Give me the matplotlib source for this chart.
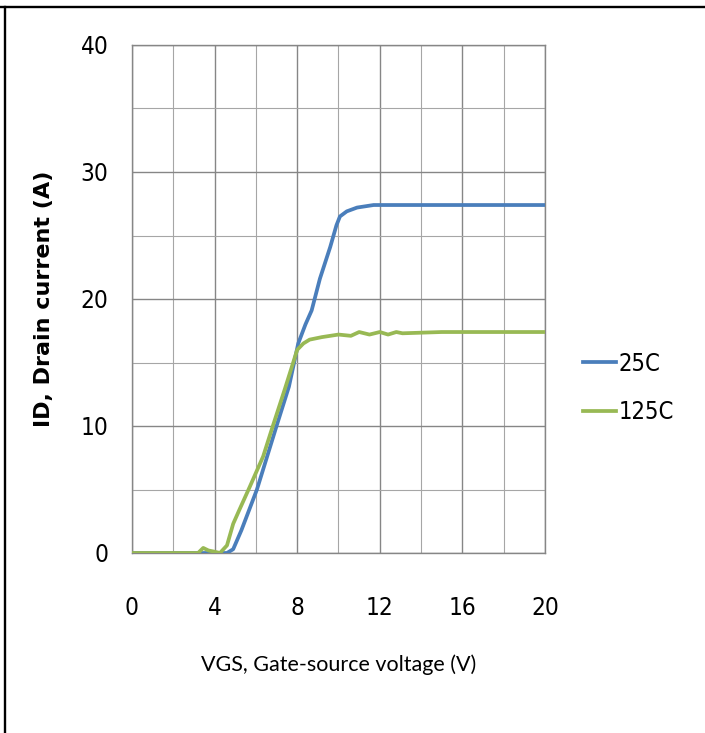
import matplotlib.pyplot as plt
from matplotlib.lines import Line2D

# Dane (VGS w V, ID w A)
vgs_25 = [0, 2, 4, 4.6, 4.9, 5.3, 6.05, 7.0, 7.6, 8.05, 8.4, 8.7, 9.1, 9.6, 9.9,
          10.07, 10.4, 10.9, 11.3, 11.7, 14, 17, 20]
id_25 = [0, 0, 0, 0, 0.3, 1.8, 5.0, 10.0, 13.1, 16.5, 18.0, 19.1, 21.6, 24.1, 25.8,
         26.5, 26.9, 27.2, 27.3, 27.4, 27.4, 27.4, 27.4]

vgs_125 = [0, 2, 3.2, 3.45, 3.7, 4.0, 4.26, 4.6, 4.9, 5.2, 5.7, 6.35, 6.8, 7.4,
           8.0, 8.3, 8.6, 9.2, 10.0, 10.6, 11.0, 11.5, 12.0, 12.4, 12.8, 13.1,
           15, 17.5, 20]
id_125 = [0, 0, 0, 0.4, 0.2, 0.1, 0, 0.6, 2.3, 3.4, 5.2, 7.6, 9.9, 12.9,
          16.0, 16.5, 16.8, 17.0, 17.2, 17.1, 17.4, 17.2, 17.4, 17.2, 17.4, 17.3,
          17.4, 17.4, 17.4]

serie = [('25C', vgs_25, id_25, '#4a7ebb'),
         ('125C', vgs_125, id_125, '#98b954')]

x_ticks = [0, 4, 8, 12, 16, 20]
y_ticks = [0, 10, 20, 30, 40]

fig = plt.figure(figsize=(7.05, 7.33), dpi=100)
ax = fig.add_axes([132 / 705, 1 - 553 / 733, 413 / 705, 508 / 733])

for nazwa, x, y, kolor in serie:
    ax.plot(x, y, color=kolor, linewidth=2.7, label=nazwa, zorder=3)

ax.set_xlim(0, 20)
ax.set_ylim(0, 40)
ax.set_xticks(x_ticks)
ax.set_yticks(y_ticks)
ax.set_xticks(range(0, 21, 2), minor=True)
ax.set_yticks(range(0, 41, 5), minor=True)
ax.grid(True, which='major', color='#868686', linewidth=1.0)
ax.grid(True, which='minor', color='#a6a6a6', linewidth=0.8)
ax.tick_params(which='both', length=0)
ax.tick_params(axis='x', pad=31)
ax.tick_params(axis='y', pad=17)
for s in ax.spines.values():
    s.set_color('#868686')
    s.set_linewidth(1.0)

# waska czcionka cyfr
for lab in ax.get_xticklabels() + ax.get_yticklabels():
    lab.set_fontfamily('DejaVu Sans')
    lab.set_fontstretch('condensed')
    lab.set_fontsize(17.5)

ax.set_xlabel('VGS, Gate-source voltage (V)', fontsize=15.5,
              family=['Lato', 'DejaVu Sans'], labelpad=25)
ax.set_ylabel('ID, Drain current (A)', fontsize=16, fontweight='bold',
              family='DejaVu Sans')
ax.yaxis.set_label_coords(-0.19, 0.5)

fig.legend(loc='center left', bbox_to_anchor=(583 / 705, 1 - 388 / 733),
           frameon=False, borderpad=0, borderaxespad=0, handlelength=1.4,
           handletextpad=0.1, labelspacing=1.05,
           prop={'family': 'DejaVu Sans', 'stretch': 'condensed', 'size': 17})

# Ramka komórki tabeli (góra i lewa strona)
fig.add_artist(Line2D([0, 1], [1 - 6.5 / 733] * 2, color='black', linewidth=1.7))
fig.add_artist(Line2D([5 / 705] * 2, [0, 1 - 6.5 / 733], color='black', linewidth=1.7))

fig.savefig('out.png', dpi=100)
